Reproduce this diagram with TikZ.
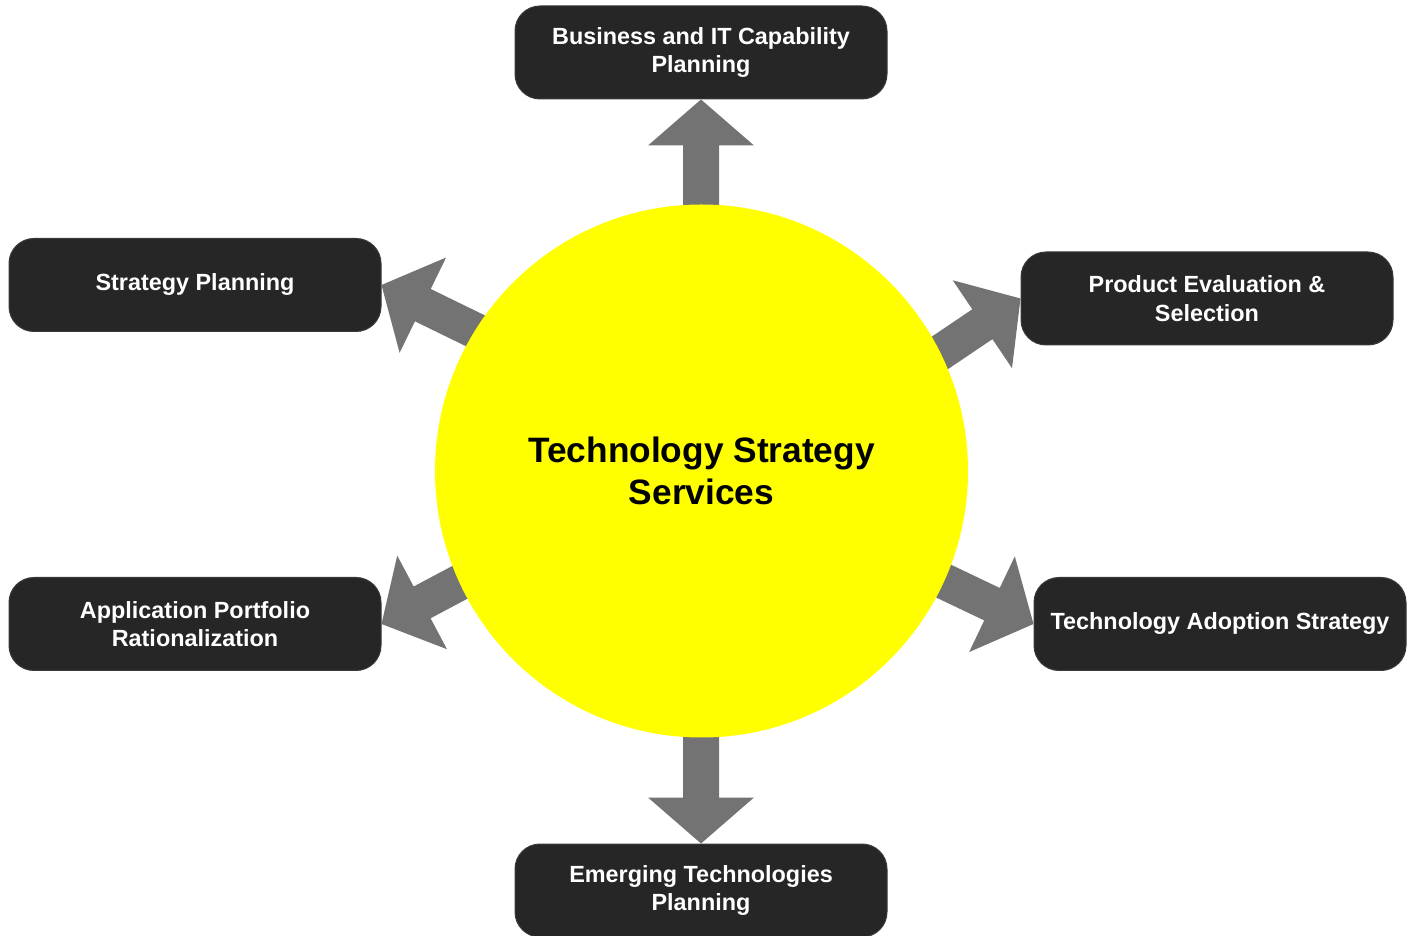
\documentclass[tikz,border=0pt]{standalone}
\usepackage{fontspec}
\setmainfont{Liberation Sans}
\usetikzlibrary{calc}
\definecolor{boxfill}{HTML}{262626}
\definecolor{boxedge}{HTML}{3A3A3A}
\definecolor{arrowgrey}{HTML}{737373}
\definecolor{sunyellow}{HTML}{FFFF00}
\newcommand\fatarrow[2]{%
  \begin{scope}[shift={(#1)}, rotate=#2]
    \fill[arrowgrey] (0,0) -- (-46,53) -- (-46,18) -- (-160,18) -- (-160,-18) -- (-46,-18) -- (-46,-53) -- cycle;
  \end{scope}}
\begin{document}
\begin{tikzpicture}[x=1pt,y=1pt,
  svc/.style={draw=boxedge, line width=1pt, fill=boxfill, rounded corners=25pt,
    minimum width=372pt, minimum height=93pt, text=white,
    font=\fontsize{23.4}{28.5}\selectfont\bfseries, align=center, inner sep=0pt},
  hub/.style={circle, fill=sunyellow, minimum size=533pt, inner sep=0pt,
    font=\fontsize{35.3}{42}\selectfont\bfseries, align=center}]
\useasboundingbox (0,0) rectangle (1419,935);
\node[svc] (bit) at (701,882.5) {Business and IT Capability\\Planning};
\node[svc] (sp)  at (195,650) {Strategy Planning};
\node[svc] (pe)  at (1207,636.5) {Product Evaluation \&\\Selection};
\node[svc] (ap)  at (195,311) {Application Portfolio\\Rationalization};
\node[svc] (ta)  at (1220,311) {Technology Adoption Strategy};
\node[svc] (et)  at (701,44.5) {Emerging Technologies\\Planning};
\fatarrow{bit.south}{90}
\fatarrow{sp.east}{154}
\fatarrow{pe.west}{34}
\fatarrow{ap.east}{208}
\fatarrow{ta.west}{334.5}
\fatarrow{et.north}{270}
\node[hub] (hub) at (701.5,464) {Technology Strategy\\Services};
\end{tikzpicture}
\end{document}
